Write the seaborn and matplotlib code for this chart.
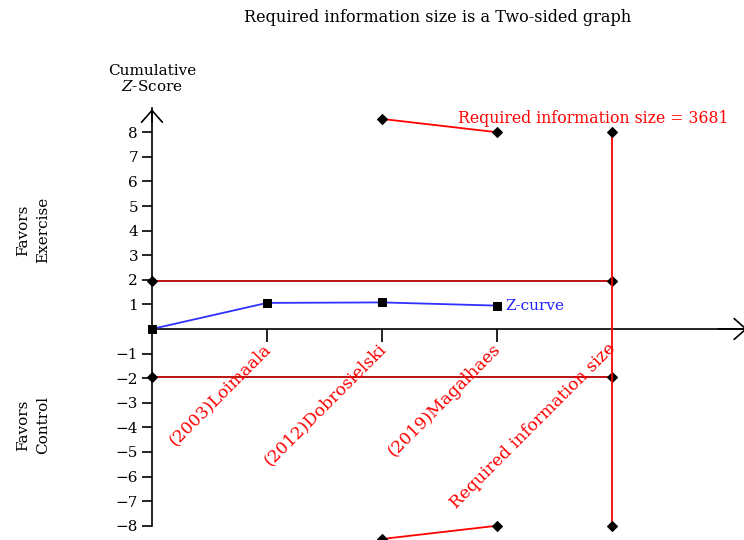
import numpy as np
import pandas as pd
import matplotlib
matplotlib.use("Agg")
import matplotlib.pyplot as plt
import seaborn as sns

# trial sequential analysis data (x = trial order, RIS drawn at the last position)
studies = ["(2003)Loimaala", "(2012)Dobrosielski", "(2019)Magalhaes", "Required information size"]
study_pos = [1, 2, 3, 4]
z_pos = [0, 1, 2, 3]
z_curve = [0.0, 1.06, 1.08, 0.95]
conv_z = 1.96
bound_pos = [2, 3]
bound_upper = [8.54, 8.0]
bound_lower = [-8.54, -8.0]
ris_pos = 4
ris_z = 8.0
ris_n = 3681
y_ticks = [-8, -7, -6, -5, -4, -3, -2, -1, 1, 2, 3, 4, 5, 6, 7, 8]

sns.set_style("white")
plt.rcParams['font.family'] = ['DejaVu Serif']
plt.rcParams['mathtext.fontset'] = 'dejavuserif'
plt.rcParams['text.color'] = 'black'
plt.rcParams['ytick.color'] = 'black'
plt.rcParams['xtick.color'] = 'black'
FS = 11

fig = plt.figure(figsize=(7.44, 5.40), dpi=100)
ax = fig.add_axes([100 / 744, 0, 644 / 744, 440 / 540])
ax.set_xlim(-0.452, 5.148)
ax.set_ylim(-8.58, 9.31)

dkw = dict(marker="D", markersize=5, markerfacecolor="black", markeredgecolor="black",
           estimator=None, sort=False, clip_on=False, zorder=3)

# conventional boundaries
for sgn in (1, -1):
    df_c = pd.DataFrame({"x": [0, ris_pos], "z": [sgn * conv_z, sgn * conv_z]})
    sns.lineplot(data=df_c, x="x", y="z", ax=ax, color="#b50000", lw=1.3, **dkw)

# alpha-spending boundaries
for vals in (bound_upper, bound_lower):
    df_b = pd.DataFrame({"x": bound_pos, "z": vals})
    sns.lineplot(data=df_b, x="x", y="z", ax=ax, color="#ff0000", lw=1.3, **dkw)

# required information size line
df_r = pd.DataFrame({"x": [ris_pos, ris_pos], "z": [ris_z, -ris_z]})
sns.lineplot(data=df_r, x="x", y="z", ax=ax, color="#ff0000", lw=1.3, **dkw)

# Z-curve
df_z = pd.DataFrame({"x": z_pos, "z": z_curve})
sns.lineplot(data=df_z, x="x", y="z", ax=ax, color="#3030ff", lw=1.3,
             marker="s", markersize=6, markerfacecolor="black", markeredgecolor="black",
             estimator=None, sort=False, clip_on=False, zorder=4)
ax.text(z_pos[-1] + 0.07, z_curve[-1], "Z-curve", color="#2020ff", fontsize=FS,
        ha="left", va="center")

ax.text(bound_pos[-1] - 0.34, ris_z + 0.55, f"Required information size = {ris_n}",
        color="#ff0000", fontsize=FS + 0.3, ha="left", va="center")

# axes through the origin
for s in ("top", "right"):
    ax.spines[s].set_visible(False)
ax.spines["left"].set_position(("data", 0))
ax.spines["bottom"].set_position(("data", 0))
ax.spines["left"].set_bounds(-8, 9)
ax.spines["bottom"].set_bounds(0, 5.2)
for s in ("left", "bottom"):
    ax.spines[s].set_linewidth(1.2)
    ax.spines[s].set_color("black")
ax.annotate("", xy=(0, 9.05), xytext=(0, 8.3),
            arrowprops=dict(arrowstyle="->,head_length=0.85,head_width=0.75", lw=1.2, color="black"),
            annotation_clip=False)
ax.annotate("", xy=(5.2, 0), xytext=(4.9, 0),
            arrowprops=dict(arrowstyle="->,head_length=0.85,head_width=0.75", lw=1.2, color="black"),
            annotation_clip=False)

ax.set_yticks(y_ticks)
ax.set_yticklabels([f"{t}".replace("-", "\u2212") for t in y_ticks])
ax.set_xticks(study_pos[:-1])
ax.set_xticklabels([])
ax.tick_params(axis="y", direction="out", length=7, width=1.2, labelsize=FS, pad=3, left=True)
ax.tick_params(axis="x", direction="out", length=9, width=1.2, bottom=True)
ax.set_xlabel("")
ax.set_ylabel("")

# rotated study labels
for pos, name in zip(study_pos, studies):
    ax.text(pos - 0.04, -0.45, name, color="#ff0000", fontsize=12.3, rotation=45,
            rotation_mode="anchor", ha="right", va="top")

fig.text(438 / 744, 1 - 18 / 540, "Required information size is a Two-sided graph",
         fontsize=11.6, ha="center", va="center")
fig.text(152 / 744, 1 - 79 / 540, "Cumulative\n$\\it{Z}$-Score", fontsize=FS,
         ha="center", va="center", linespacing=1.15)
fig.text(33 / 744, 1 - 230 / 540, "Favors\nExercise", fontsize=FS, rotation=90,
         ha="center", va="center", linespacing=1.5)
fig.text(33 / 744, 1 - 425 / 540, "Favors\nControl", fontsize=FS, rotation=90,
         ha="center", va="center", linespacing=1.5)

fig.savefig("out.png", dpi=100)
